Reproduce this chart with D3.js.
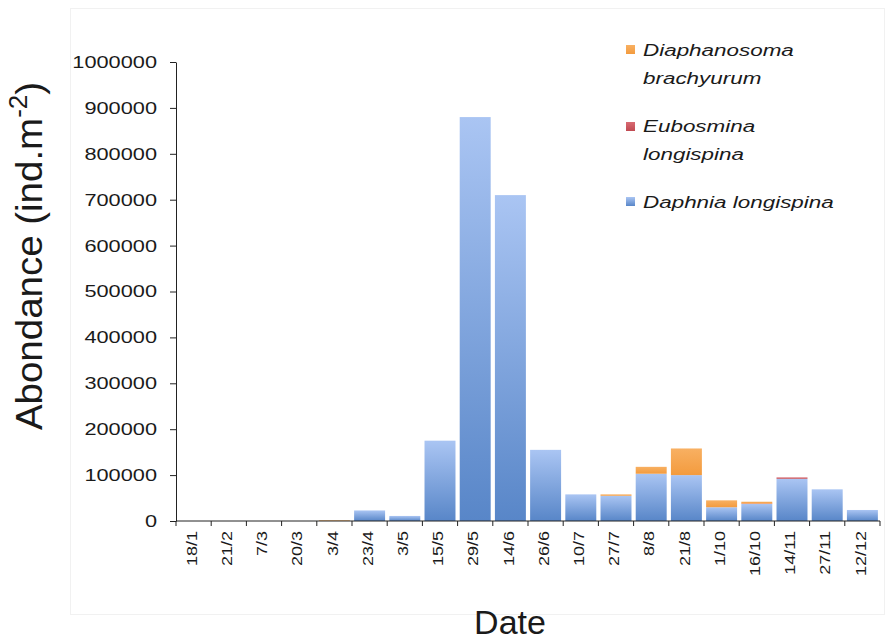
<!DOCTYPE html>
<html>
<head>
<meta charset="utf-8">
<script src="https://cdn.jsdelivr.net/npm/d3@7"></script>
<style>
  html, body { margin: 0; padding: 0; background: #fff; }
  svg { display: block; }
  text { font-family: "Liberation Sans", Arial, Helvetica, sans-serif; fill: #1a1a1a; }
</style>
</head>
<body>
<svg id="chart" width="891" height="643"></svg>
<script>
// ---- data ----
const dates = ["18/1","21/2","7/3","20/3","3/4","23/4","3/5","15/5","29/5","14/6","26/6","10/7","27/7","8/8","21/8","1/10","16/10","14/11","27/11","12/12"];
const daphnia      = [0,0,0,0,0,23000,11000,175000,880000,710000,155000,58000,55000,103000,100000,30000,37000,92000,69000,24000];
const eubosmina    = [0,0,0,0,0,0,0,0,0,0,0,0,0,0,0,0,1000,3000,0,0];
const diaphanosoma = [0,0,0,0,1500,0,0,0,0,0,0,0,3000,15000,58000,15000,4000,0,0,0];
const seriesNames  = ["Daphnia longispina","Eubosmina longispina","Diaphanosoma brachyurum"];
const yTicks = [0,100000,200000,300000,400000,500000,600000,700000,800000,900000,1000000];

const rows = dates.map((d,i) => ({date:d, daphnia:daphnia[i], eubosmina:eubosmina[i], diaphanosoma:diaphanosoma[i]}));
const keys = ["daphnia","eubosmina","diaphanosoma"];

const svg = d3.select("#chart");
const pLeft = 176, pRight = 880, pTop = 62, pBottom = 521;

// faint frame
svg.append("rect").attr("x",70.5).attr("y",8.5).attr("width",814).attr("height",606)
  .attr("fill","none").attr("stroke","#f1f1f1");

const x = d3.scaleBand().domain(dates).range([pLeft,pRight]).paddingInner(0.12).paddingOuter(0.06);
const y = d3.scaleLinear().domain([0,1000000]).range([pBottom,pTop]);

// gradients
const defs = svg.append("defs");
function grad(id, c1, c2){
  const g = defs.append("linearGradient").attr("id",id).attr("x1",0).attr("y1",0).attr("x2",0).attr("y2",1);
  g.append("stop").attr("offset","0%").attr("stop-color",c1);
  g.append("stop").attr("offset","100%").attr("stop-color",c2);
}
grad("g-daphnia","#aac5f3","#5886c8");
grad("g-eubosmina","#d86a72","#c04a52");
grad("g-diaphanosoma","#f8b062","#f39b3e");
const fills = {daphnia:"url(#g-daphnia)", eubosmina:"url(#g-eubosmina)", diaphanosoma:"url(#g-diaphanosoma)"};

const stacked = d3.stack().keys(keys)(rows);
svg.append("g").selectAll("g").data(stacked).join("g")
  .attr("fill", d => fills[d.key])
  .selectAll("rect").data(d => d.filter(p => p[1]-p[0] > 0)).join("rect")
  .attr("x", d => x(d.data.date))
  .attr("width", x.bandwidth())
  .attr("y", d => y(d[1]))
  .attr("height", d => y(d[0]) - y(d[1]));

// y axis
const yAxis = svg.append("g").attr("transform",`translate(${pLeft},0)`)
  .call(d3.axisLeft(y).tickValues(yTicks).tickFormat(d3.format("d")).tickSize(6).tickSizeOuter(0));
yAxis.select(".domain").attr("stroke","#222");
yAxis.selectAll(".tick line").attr("stroke","#222");
const sy = 1.28;
yAxis.selectAll(".tick text")
  .attr("font-size",17).attr("fill","#1a1a1a")
  .attr("x", -19/sy).attr("transform",`scale(${sy},1)`);

// x axis
const xAxis = svg.append("g").attr("transform",`translate(0,${pBottom})`);
xAxis.append("line").attr("x1",pLeft).attr("x2",pRight).attr("stroke","#222");
const bounds = d3.range(dates.length+1).map(i => pLeft + i*x.step());
xAxis.selectAll("line.tk").data(bounds).join("line").attr("class","tk")
  .attr("x1",d=>d).attr("x2",d=>d).attr("y1",0).attr("y2",5).attr("stroke","#222");
const sx = 1.2;
xAxis.selectAll("text.lab").data(dates).join("text").attr("class","lab")
  .attr("transform", d => `translate(${x(d)+x.bandwidth()/2-2},0) rotate(-90) scale(${sx},1)`)
  .attr("x", -10/sx).attr("dy","0.35em")
  .attr("text-anchor","end").attr("font-size",15)
  .text(d => d);

// axis titles
const yt = svg.append("text").attr("transform","translate(42,256) rotate(-90) scale(1.04,1)")
  .attr("text-anchor","middle").attr("font-size",37);
yt.append("tspan").text("Abondance (ind.m");
yt.append("tspan").attr("font-size",25).attr("dy",-15).text("-2");
yt.append("tspan").attr("dy",15).text(")");

svg.append("text").attr("x",510).attr("y",634).attr("text-anchor","middle")
  .attr("font-size",34).text("Date");

// legend
const legend = [
  {key:"diaphanosoma", lines:["Diaphanosoma","brachyurum"], sq:45, base:56},
  {key:"eubosmina", lines:["Eubosmina","longispina"], sq:122, base:132},
  {key:"daphnia", lines:["Daphnia longispina"], sq:197, base:208}
];
const sl = 1.32;
const lg = svg.append("g");
legend.forEach(l => {
  lg.append("rect").attr("x",626).attr("y",l.sq).attr("width",9).attr("height",9).attr("fill",fills[l.key]);
  l.lines.forEach((t,j) => {
    lg.append("text").attr("transform",`translate(643,${l.base + j*28}) scale(${sl},1)`)
      .attr("font-size",17).attr("font-style","italic").text(t);
  });
});
</script>
</body>
</html>
